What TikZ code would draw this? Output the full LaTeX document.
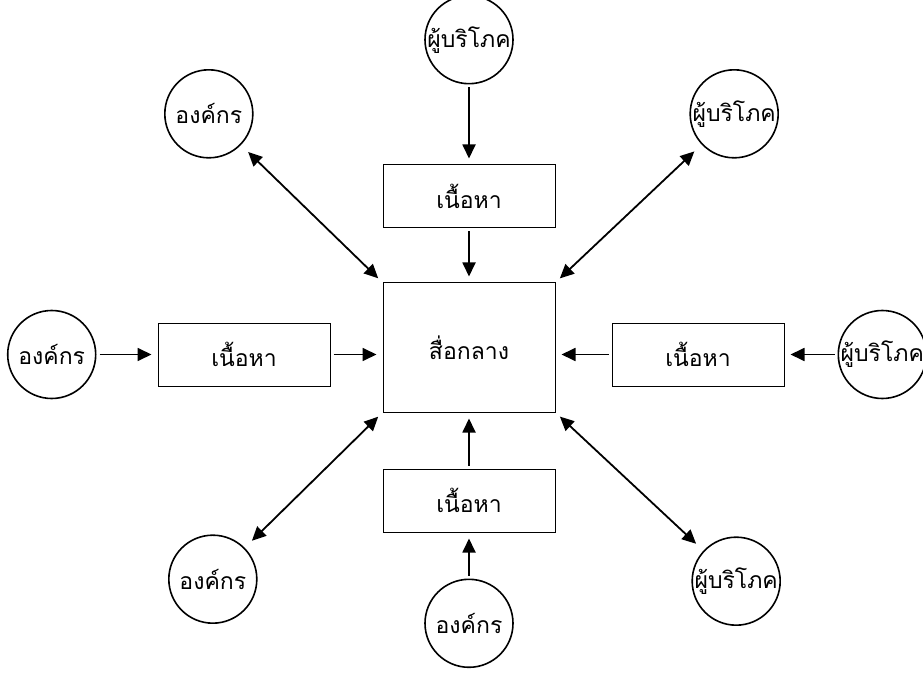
\documentclass[tikz,border=0pt]{standalone}
\usepackage{fontspec}
\setmainfont[Script=Thai]{Loma}
\usetikzlibrary{positioning, arrows.meta}

\begin{document}
\begin{tikzpicture}[
    font=\fontsize{23}{27}\selectfont,
    box/.style={draw, line width=1pt, inner sep=0pt, minimum width=172pt, minimum height=63pt},
    party/.style={draw, circle, line width=1.6pt, inner sep=0pt, minimum size=88pt,
                  label={center:#1}},
    flow/.style={line width=1.8pt, -{Triangle[length=14pt, width=13pt]},
                 shorten <=3pt, shorten >=6pt},
    both/.style={flow, {Triangle[length=14pt, width=13pt]}-{Triangle[length=14pt, width=13pt]},
                 shorten <=10pt, shorten >=6pt},
  ]
  \useasboundingbox (0,0) rectangle (923pt,673pt);

  % the medium in the middle, content boxes round it
  \node [box, minimum height=129pt] (mid) at (469pt,325.5pt) {สื่อกลาง};
  \node [box, above=54pt of mid] (ctop) {เนื้อหา};
  \node [box, below=56pt of mid] (cbot) {เนื้อหา};
  \node [box, left=52pt of mid, yshift=-7pt] (cleft) {เนื้อหา};
  \node [box, right=56pt of mid, yshift=-7pt] (cright) {เนื้อหา};

  % producers and consumers
  \node [party=ผู้บริโภค, above=80pt of ctop] (ptop) {};
  \node [party=องค์กร, below=46pt of cbot] (pbot) {};
  \node [party=องค์กร, left=61pt of cleft] (pleft) {};
  \node [party=ผู้บริโภค, right=53pt of cright] (pright) {};
  \node [party=องค์กร, above left=137pt and 142pt of mid] (ptl) {};
  \node [party=ผู้บริโภค, above right=137pt and 147pt of mid] (ptr) {};
  \node [party=องค์กร, below left=135pt and 138pt of mid] (pbl) {};
  \node [party=ผู้บริโภค, below right=137pt and 149pt of mid] (pbr) {};

  \draw [flow] (ptop) -- (ctop);
  \draw [flow] (ctop) -- (mid);
  \draw [flow] (pbot) -- (cbot);
  \draw [flow] (cbot) -- (mid);
  \draw [flow] (pleft) -- (cleft);
  \draw [flow] (cleft) -- (cleft -| mid.west);
  \draw [flow] (pright) -- (cright);
  \draw [flow] (cright) -- (cright -| mid.east);

  \draw [both] (ptl) -- (mid.north west);
  \draw [both] (ptr) -- (mid.north east);
  \draw [both] (pbl) -- (mid.south west);
  \draw [both] (pbr) -- (mid.south east);
\end{tikzpicture}
\end{document}
